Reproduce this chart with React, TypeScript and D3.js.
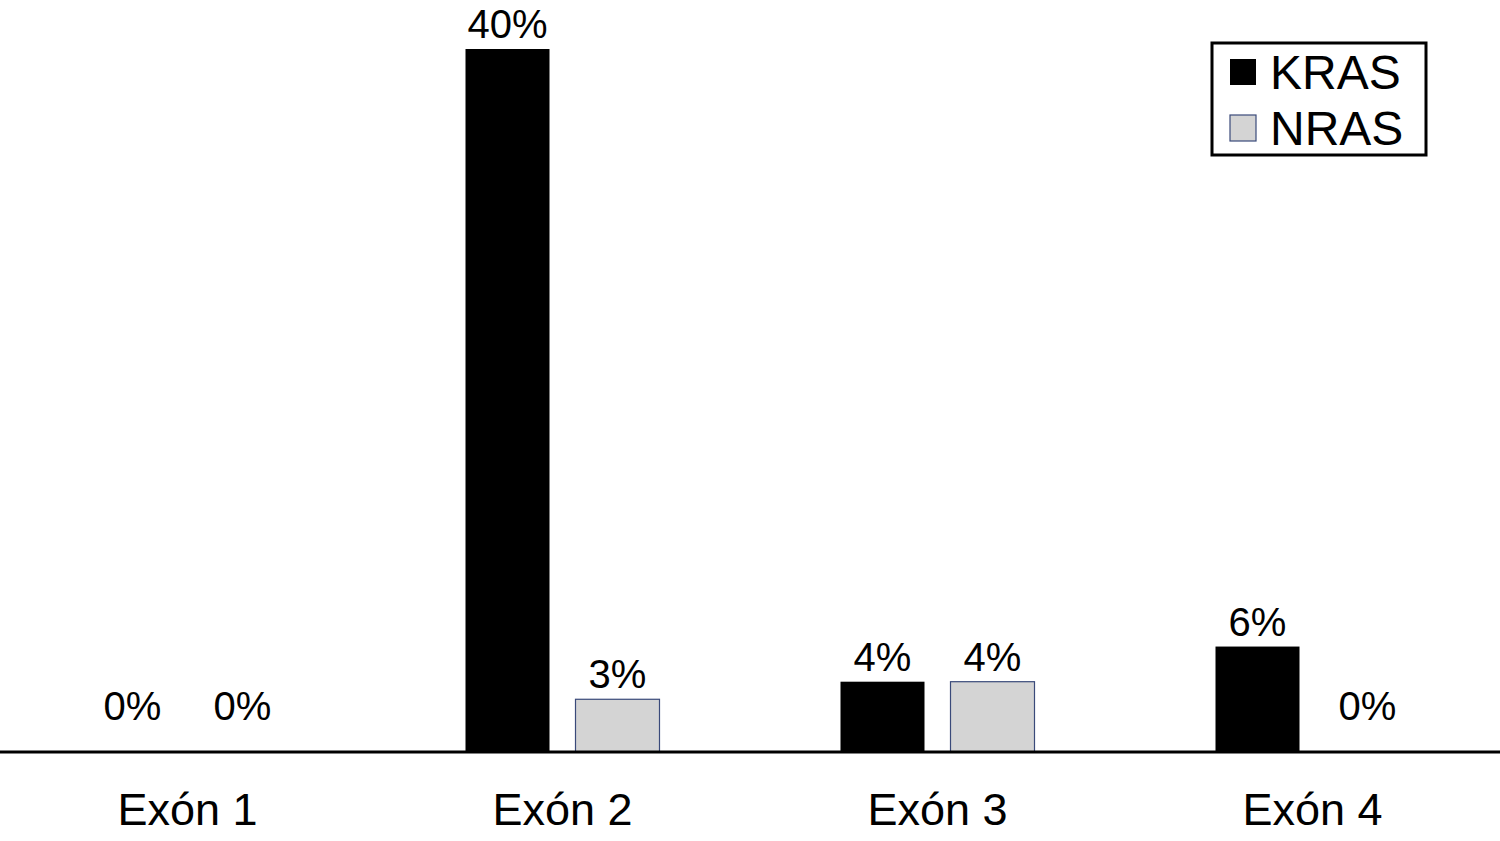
import * as d3 from "d3";

const categories = ["Exón 1", "Exón 2", "Exón 3", "Exón 4"];
const series = ["KRAS", "NRAS"];
const krasValues = [0, 40, 4, 6];
const nrasValues = [0, 3, 4, 0];
const seriesColors = ["#000000", "#d4d4d4"];
const seriesStroke = ["#000000", "#3a4a7a"];

export default function App() {
  const width = 1500;
  const height = 841;
  const baseY = 752;
  const topY = 49;
  const font = "'Liberation Sans', Arial, Helvetica, sans-serif";

  const x0 = d3.scaleBand().domain(categories).range([0, width]).padding(0);
  // two bars per group, 84px wide with a 26px gap
  const x1 = d3.scaleBand().domain(series).range([0, 194]).paddingInner(26 / 110).paddingOuter(0);
  const y = d3.scaleLinear().domain([0, 40]).range([baseY, topY]);

  const values = [krasValues, nrasValues];

  const bars = categories.flatMap((c, i) =>
    series.map((s, j) => {
      const v = values[j][i];
      const bx = x0(c)! + x0.bandwidth() / 2 - 97 + x1(s)!;
      return { c, s, j, v, bx };
    })
  );

  return (
    <svg width={width} height={height} style={{ position: "absolute", left: 0, top: 0, background: "#fff" }}>
      <rect width={width} height={height} fill="#fff" />
      <g>
        {bars.map((b) =>
          b.v > 0 ? (
            <rect
              key={b.c + b.s}
              x={b.bx}
              y={y(b.v)}
              width={x1.bandwidth()}
              height={y(0) - y(b.v)}
              fill={seriesColors[b.j]}
              stroke={seriesStroke[b.j]}
              strokeWidth={b.j === 1 ? 1.2 : 0}
            />
          ) : null
        )}
      </g>
      <g fontFamily={font} fontSize={40} textAnchor="middle" fill="#000">
        {bars.map((b) => (
          <text key={"l" + b.c + b.s} x={b.bx + x1.bandwidth() / 2} y={b.v === 0 ? y(0) - 32 : y(b.v) - 11}>
            {b.v}%
          </text>
        ))}
      </g>
      <line x1={0} x2={width} y1={baseY} y2={baseY} stroke="#000" strokeWidth={3} />
      <g fontFamily={font} fontSize={45} textAnchor="middle" fill="#000">
        {categories.map((c) => (
          <text key={c} x={x0(c)! + x0.bandwidth() / 2} y={825}>
            {c}
          </text>
        ))}
      </g>
      <g transform="translate(1212,43)">
        <rect width={214} height={112} fill="#fff" stroke="#000" strokeWidth={3} />
        {series.map((s, j) => (
          <g key={s} transform={`translate(18,${16 + j * 56})`}>
            <rect width={26} height={26} fill={seriesColors[j]} stroke={seriesStroke[j]} strokeWidth={j === 1 ? 1.2 : 0} />
            <text x={40} y={30} fontFamily={font} fontSize={48} fill="#000">
              {s}
            </text>
          </g>
        ))}
      </g>
    </svg>
  );
}
